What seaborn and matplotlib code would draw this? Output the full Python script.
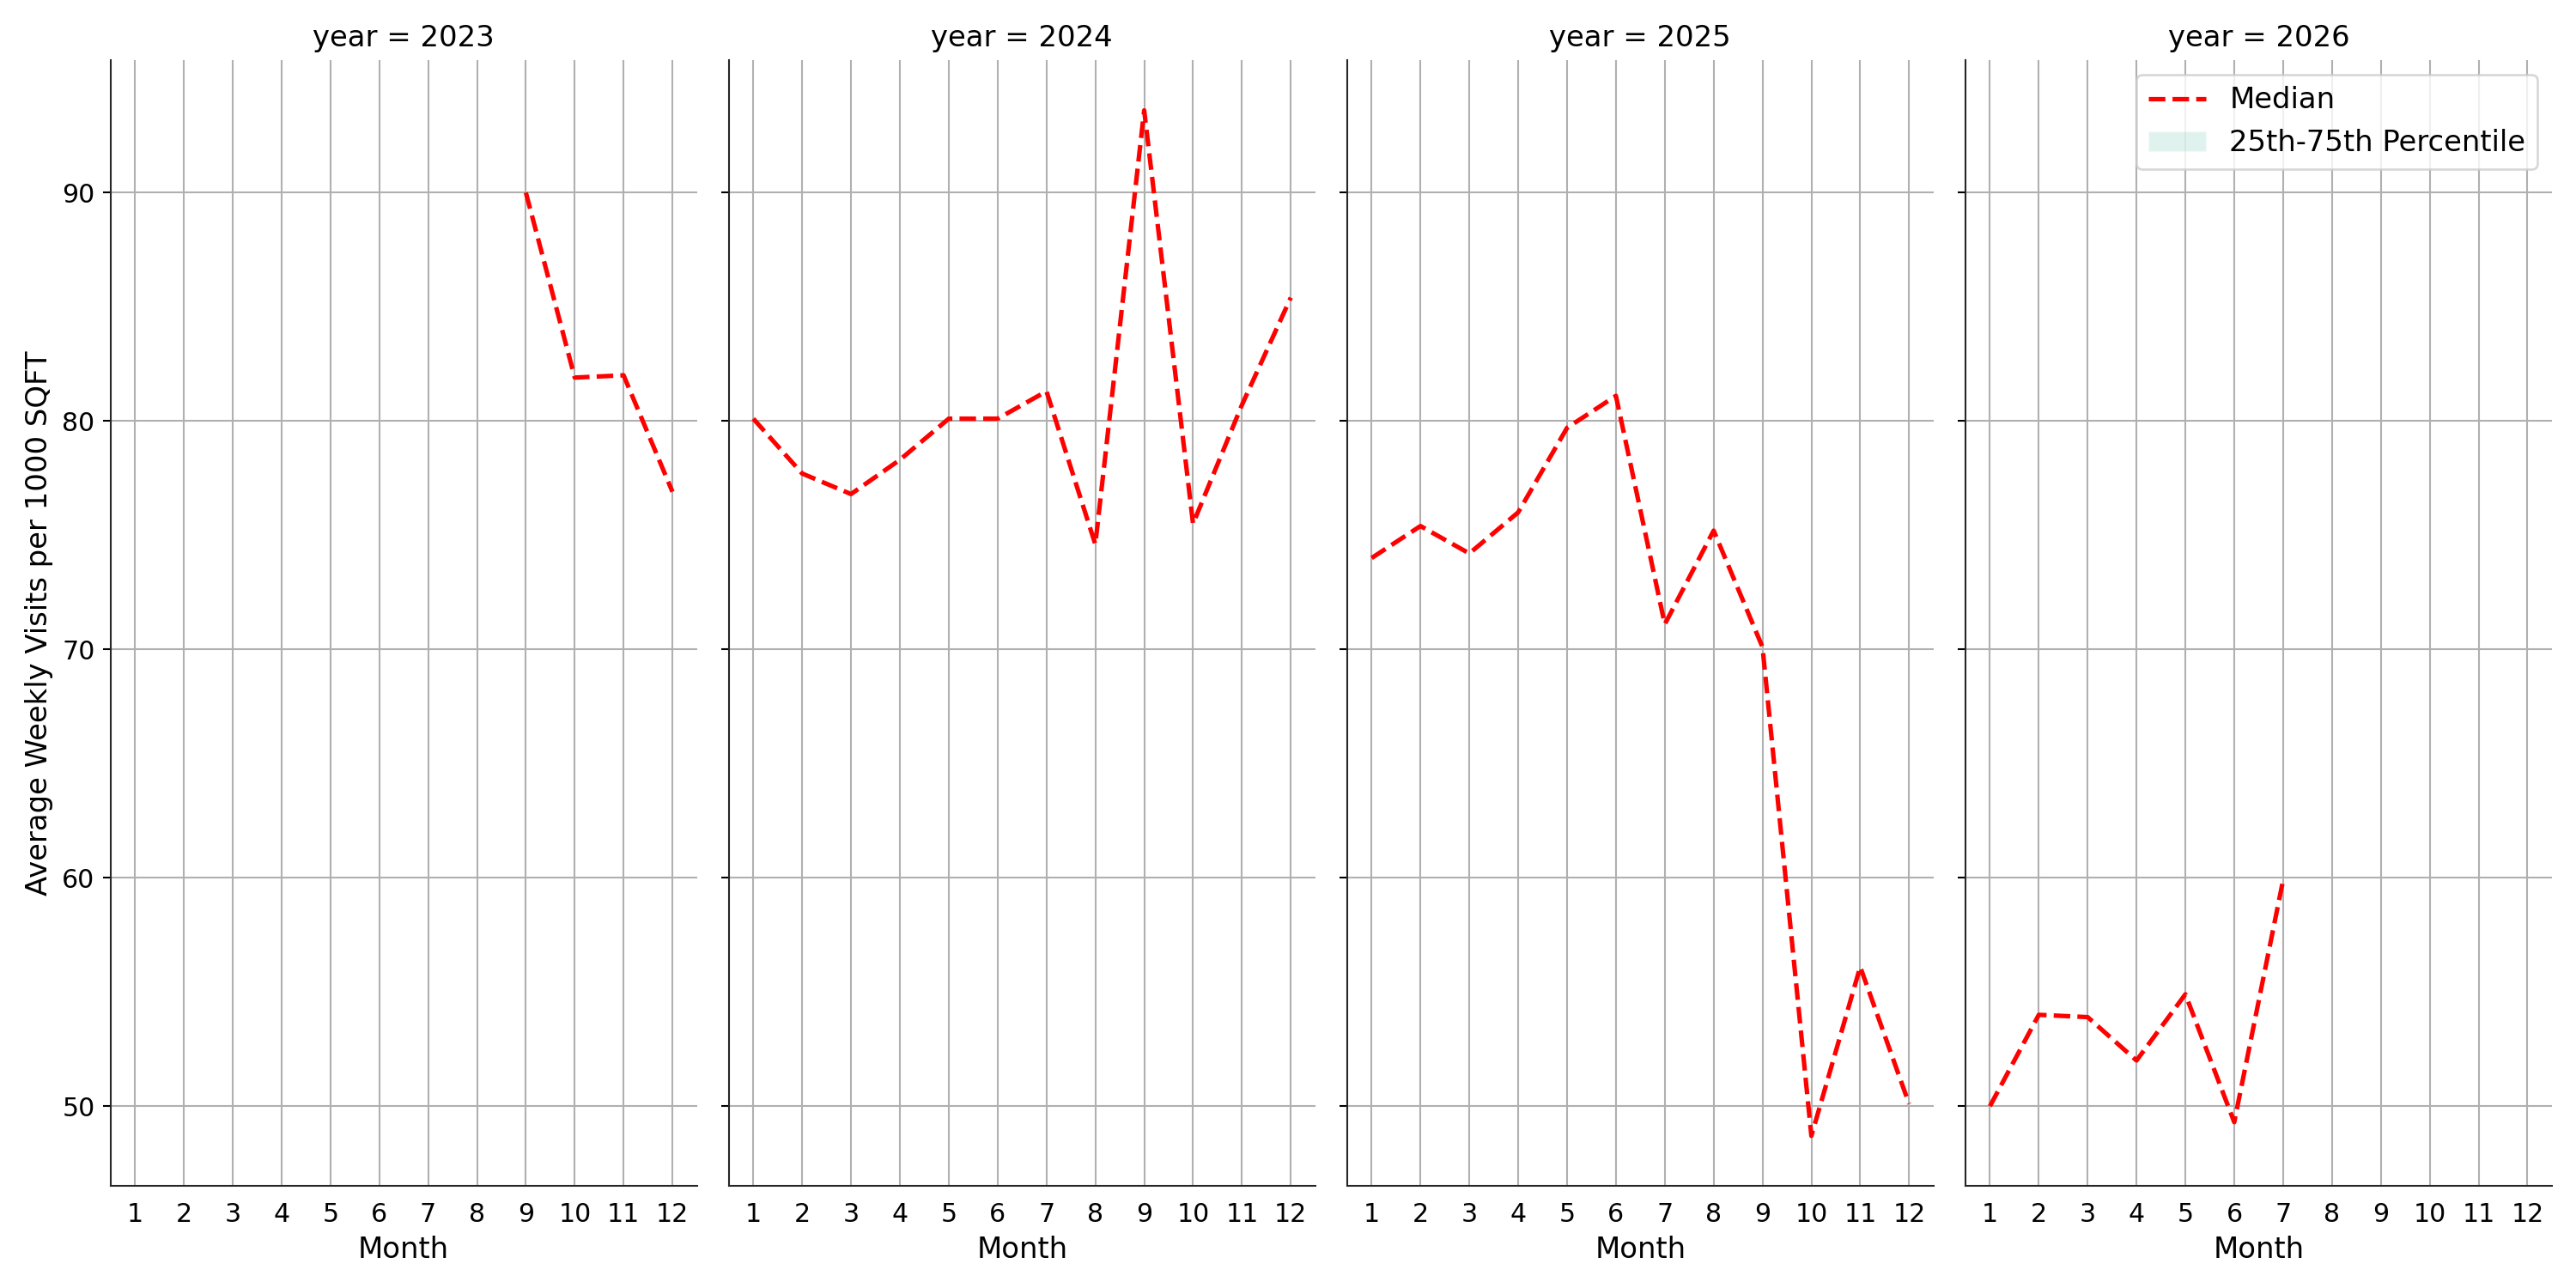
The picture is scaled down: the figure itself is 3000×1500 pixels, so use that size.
import matplotlib
matplotlib.use("Agg")
import matplotlib.pyplot as plt
import seaborn as sns
import pandas as pd
from matplotlib.patches import Patch
from matplotlib.lines import Line2D

years = [2023, 2024, 2025, 2026]
months_2023 = [9, 10, 11, 12]
median_2023 = [90.0, 81.9, 82.0, 76.9]
months_2024 = list(range(1, 13))
median_2024 = [80.1, 77.7, 76.8, 78.3, 80.1, 80.1, 81.3, 74.6, 93.6, 75.5, 80.7, 85.4]
months_2025 = list(range(1, 13))
median_2025 = [74.0, 75.4, 74.2, 76.0, 79.7, 81.1, 71.1, 75.2, 70.1, 48.7, 56.1, 50.1]
months_2026 = [1, 2, 3, 4, 5, 6, 7]
median_2026 = [50.0, 54.0, 53.9, 52.0, 54.9, 49.3, 59.9]

df = pd.concat([
    pd.DataFrame({"year": y, "Month": m, "median": v})
    for y, m, v in [(2023, months_2023, median_2023), (2024, months_2024, median_2024),
                    (2025, months_2025, median_2025), (2026, months_2026, median_2026)]
])

sns.set_style("white")
plt.rcParams.update({"text.color": "black", "axes.labelcolor": "black",
                     "xtick.color": "black", "ytick.color": "black"})
g = sns.FacetGrid(df, col="year", col_order=years, height=8, aspect=0.5, sharey=True)
g.map_dataframe(sns.lineplot, x="Month", y="median", color="red", linestyle="--", linewidth=2)
g.set_axis_labels("Month", "Average Weekly Visits per 1000 SQFT", fontsize=13)
g.set_titles("year = {col_name}", size=13)
for ax in g.axes.flat:
    ax.set_xticks(range(1, 13))
    ax.set_xlim(0.5, 12.5)
    ax.set_ylim(46.5, 95.8)
    ax.set_yticks([50, 60, 70, 80, 90])
    ax.grid(True, color="#b0b0b0", linewidth=0.8)
    ax.tick_params(labelsize=11.5)
    ax.tick_params(axis="y", left=True)
handles = [Line2D([], [], color="red", linestyle="--", linewidth=2),
           Patch(facecolor="#66c2a5", alpha=0.2)]
g.axes.flat[-1].legend(handles, ["Median", "25th-75th Percentile"], loc="upper right", fontsize=13)
g.figure.set_size_inches(16, 8)
g.figure.tight_layout()
g.figure.savefig("out.png", dpi=187.5)
